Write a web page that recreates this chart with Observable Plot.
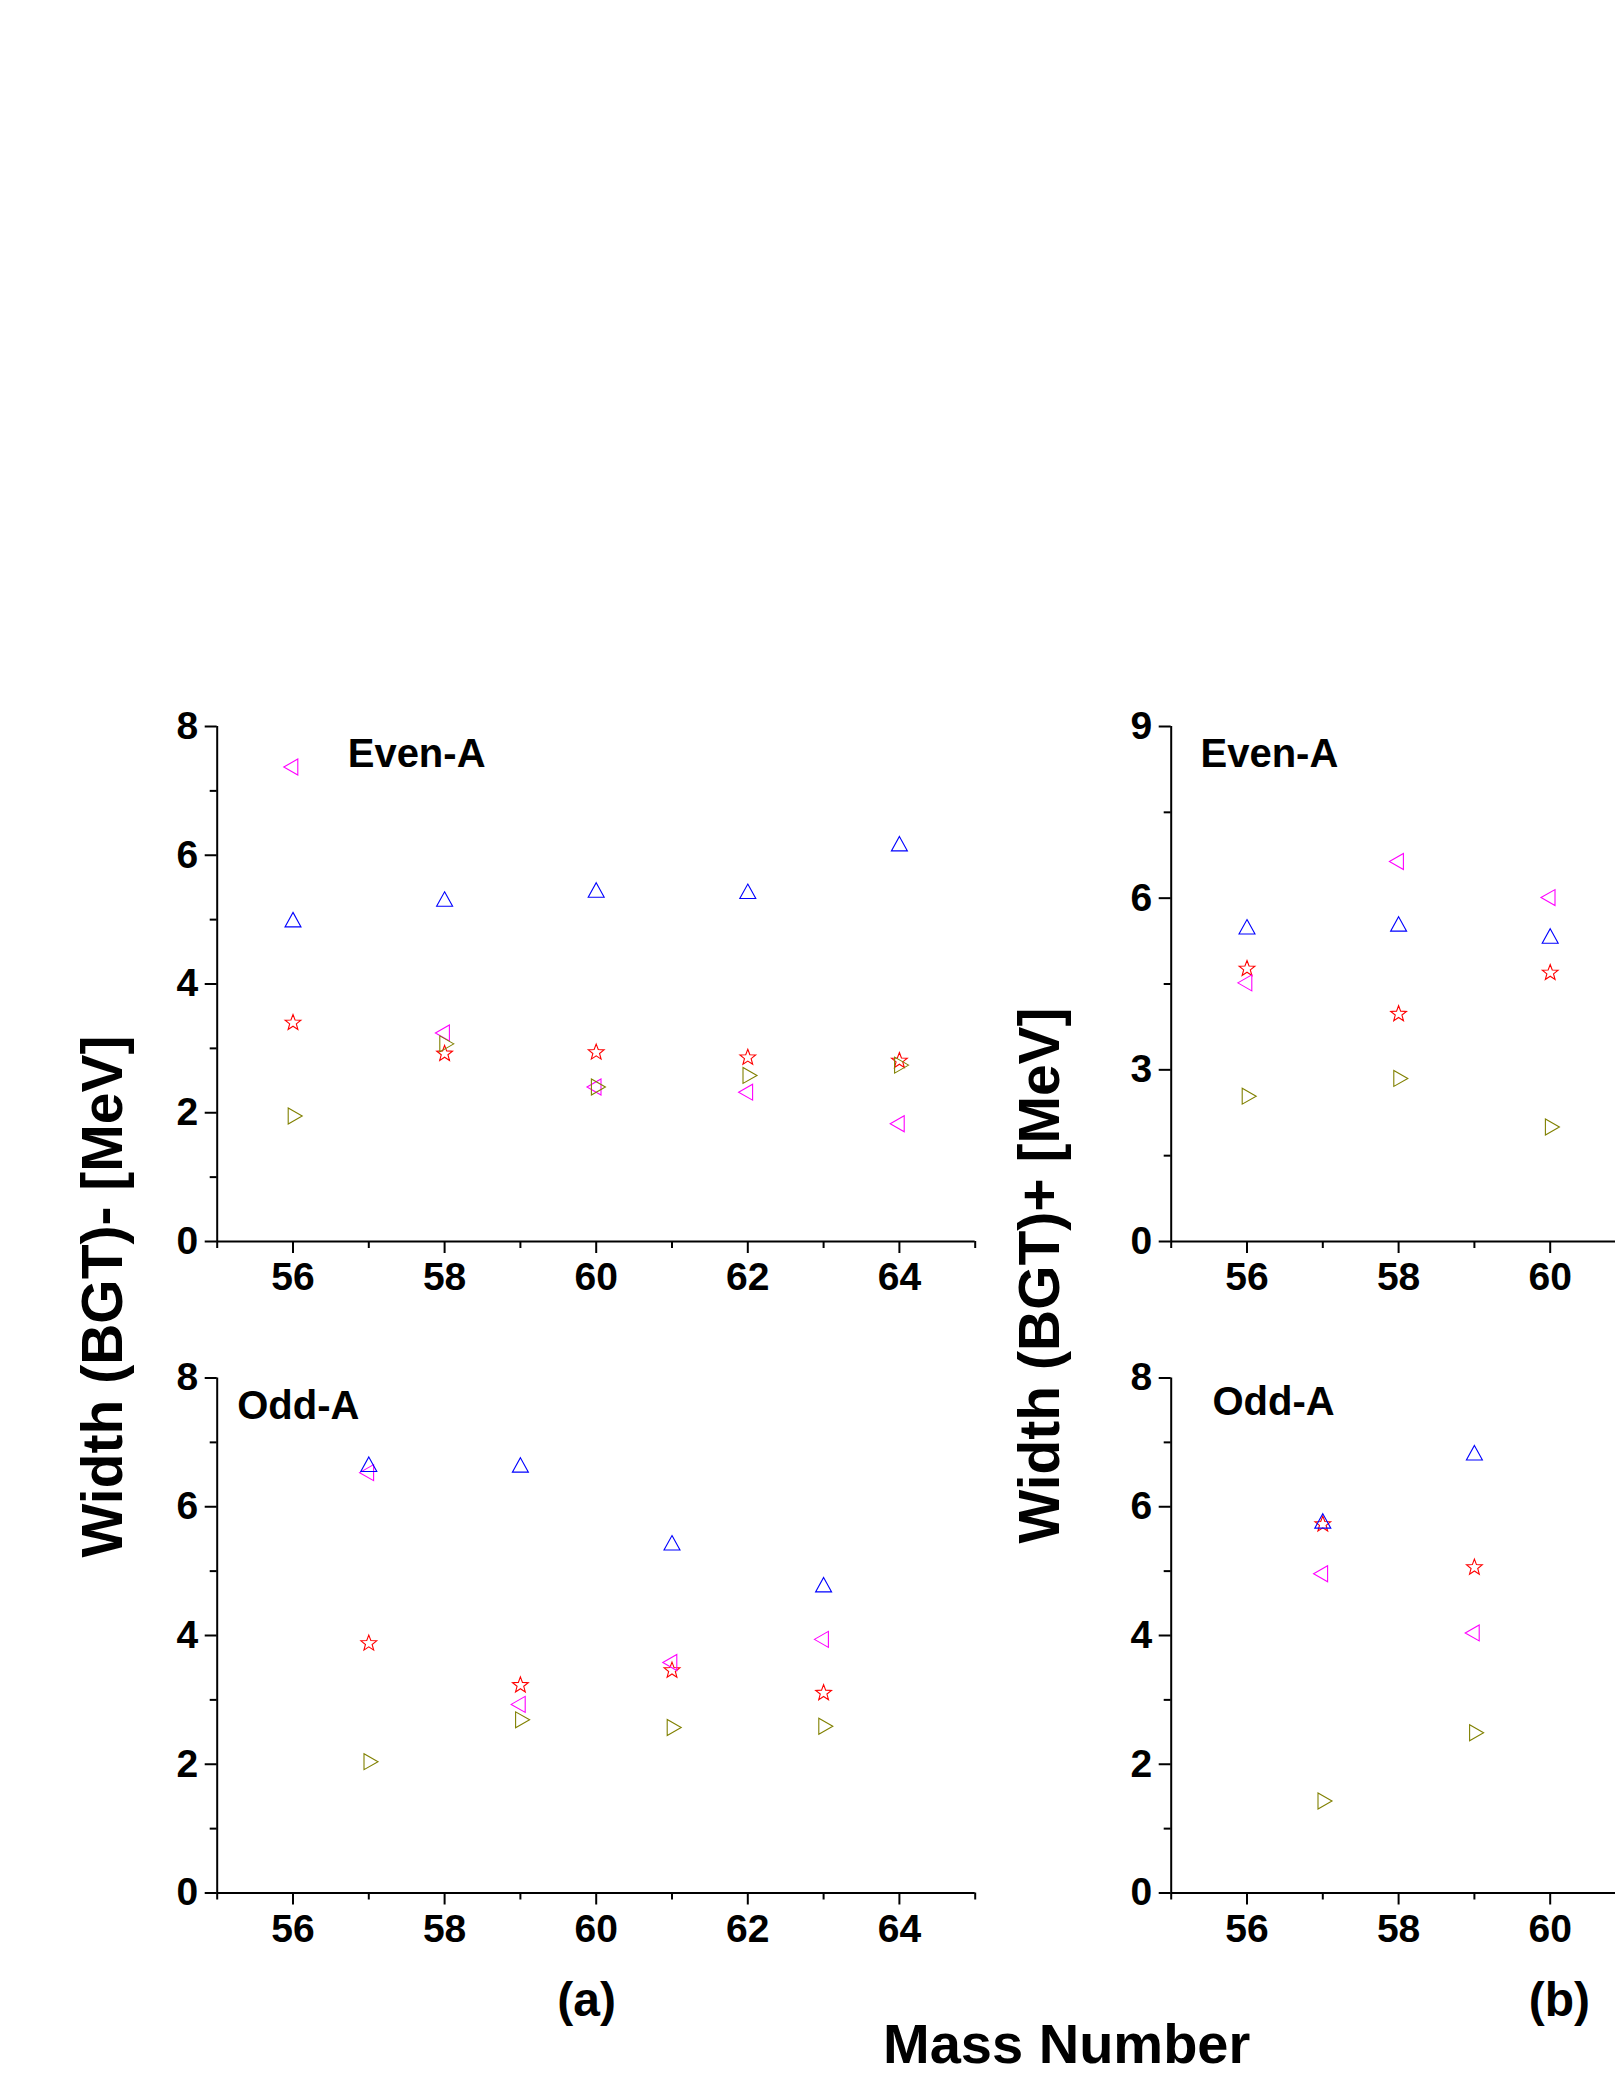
<!DOCTYPE html>
<html>
<head>
<meta charset="utf-8">
<script src="https://cdn.jsdelivr.net/npm/d3@7"></script>
<script src="https://cdn.jsdelivr.net/npm/@observablehq/plot@0.6"></script>
<style>
  html, body { margin: 0; padding: 0; background: #fff; overflow: hidden; }
  #root { position: relative; width: 1615px; height: 2090px; font-family: "Liberation Sans", Arial, Helvetica, sans-serif; font-weight: bold; color: #000; }
  .panel { position: absolute; }
  .lbl { position: absolute; white-space: nowrap; text-align: center; line-height: 1; }
</style>
</head>
<body>
<div id="root"></div>
<script>
// ---------------- data ----------------
const massEvenA = [56, 58, 60, 62, 64];
const massOddA = [57, 59, 61, 63];
const massEvenB = [56, 58, 60];
const massOddB = [57, 59];

// (a) Width (BGT)-, Even-A
const aEvenUp    = [5.00, 5.32, 5.46, 5.44, 6.18];
const aEvenStar  = [3.41, 2.93, 2.95, 2.87, 2.82];
const aEvenLeft  = [7.37, 3.24, 2.40, 2.32, 1.83];
const aEvenRight = [1.95, 3.07, 2.40, 2.58, 2.74];
// (a) Width (BGT)-, Odd-A
const aOddUp     = [6.66, 6.65, 5.44, 4.79];
const aOddStar   = [3.89, 3.24, 3.47, 3.12];
const aOddLeft   = [6.53, 2.93, 3.58, 3.94];
const aOddRight  = [2.04, 2.69, 2.57, 2.59];
// (b) Width (BGT)+, Even-A
const bEvenUp    = [5.50, 5.55, 5.34];
const bEvenStar  = [4.78, 3.99, 4.71];
const bEvenLeft  = [4.52, 6.64, 6.01];
const bEvenRight = [2.54, 2.85, 2.00];
// (b) Width (BGT)+, Odd-A
const bOddUp     = [5.78, 6.84];
const bOddStar   = [5.74, 5.07];
const bOddLeft   = [4.96, 4.04];
const bOddRight  = [1.43, 2.49];

// axis ticks
const xMajorA = [56, 58, 60, 62, 64];
const xMinorA = [55, 57, 59, 61, 63, 65];
const xMajorB = [56, 58, 60];
const xMinorB = [55, 57, 59];
const yMajor8 = [0, 2, 4, 6, 8];
const yMinor8 = [1, 3, 5, 7];
const yMajor9 = [0, 3, 6, 9];
const yMinor9 = [1.5, 4.5, 7.5];

// ---------------- symbols ----------------
const S = (size) => Math.sqrt(size / Math.PI) / 6;
const symUp = { draw(c, size) { const s = S(size); c.moveTo(0, -7.25 * s); c.lineTo(8 * s, 7.25 * s); c.lineTo(-8 * s, 7.25 * s); c.closePath(); } };
const symLeft = { draw(c, size) { const s = S(size); c.moveTo(-9.2 * s, 0); c.lineTo(4.8 * s, -8 * s); c.lineTo(4.8 * s, 8 * s); c.closePath(); } };
const symRight = { draw(c, size) { const s = S(size); c.moveTo(9.2 * s, 0); c.lineTo(-4.8 * s, -8 * s); c.lineTo(-4.8 * s, 8 * s); c.closePath(); } };
const symStar = { draw(c, size) {
  const s = S(size), R = 8.3 * s, r = 3.5 * s;
  for (let i = 0; i < 10; i++) {
    const a = -Math.PI / 2 + i * Math.PI / 5, rr = i % 2 ? r : R;
    const px = rr * Math.cos(a), py = rr * Math.sin(a) + 0.8 * s;
    i ? c.lineTo(px, py) : c.moveTo(px, py);
  }
  c.closePath();
} };

const FONT = '"Liberation Sans", Arial, Helvetica, sans-serif';

function rows(xs, ys) { return xs.map((x, i) => ({ x, y: ys[i] })); }

function panel(pos, o) {
  const series = [
    { data: rows(o.xs, o.star), sym: symStar, color: "#ff0000" },
    { data: rows(o.xs, o.lt), sym: symLeft, color: "#ff00ff" },
    { data: rows(o.xs, o.rt), sym: symRight, color: "#808000" },
    { data: rows(o.xs, o.up), sym: symUp, color: "#0000ff" }
  ];
  const svg = Plot.plot({
    width: pos.width, height: pos.height,
    marginTop: pos.mt, marginBottom: pos.mb, marginLeft: pos.ml, marginRight: pos.mr,
    x: { domain: pos.xDomain, label: null },
    y: { domain: o.yDomain, label: null },
    style: { background: "transparent", color: "#000", fontFamily: FONT, fontWeight: "bold", fontSize: "39px", overflow: "visible" },
    marks: [
      Plot.ruleX([pos.xDomain[0]], { stroke: "#000", strokeWidth: 2 }),
      Plot.ruleY([o.yDomain[0]], { stroke: "#000", strokeWidth: 2 }),
      Plot.axisY({ ticks: o.yMajor, tickSize: 12, tickPadding: 7, strokeWidth: 2, fontSize: 39, fontWeight: "bold", label: null, tickFormat: d => String(d) }),
      Plot.axisY({ ticks: o.yMinor, tickSize: 7, strokeWidth: 2, label: null, tickFormat: () => "" }),
      Plot.axisX({ ticks: pos.xMajor, tickSize: 12, tickPadding: 9, strokeWidth: 2, fontSize: 39, fontWeight: "bold", label: null, tickFormat: d => String(d) }),
      Plot.axisX({ ticks: pos.xMinor, tickSize: 7, strokeWidth: 2, label: null, tickFormat: () => "" }),
      Plot.text([o.label], { frameAnchor: "top-left", text: d => d, dx: o.ldx, dy: o.ldy, textAnchor: "start", lineAnchor: "bottom", fontSize: 40, fontWeight: "bold", fill: "#000" }),
      ...series.map(s => Plot.dot(s.data, { x: "x", y: "y", symbol: s.sym, r: 6, fill: "none", stroke: s.color, strokeWidth: 1.1 }))
    ]
  });
  const div = document.createElement("div");
  div.className = "panel";
  div.style.left = pos.left + "px";
  div.style.top = pos.top + "px";
  div.appendChild(svg);
  document.getElementById("root").appendChild(div);
}

const leftGeom = { left: 0, width: 1000, ml: 216.7, mr: 25.3, xDomain: [55, 65], xMajor: xMajorA, xMinor: xMinorA };
const rightGeom = { left: 1000, width: 615, ml: 170.7, mr: 0, xDomain: [55, 55 + (615 - 170.7) / 75.8], xMajor: xMajorB, xMinor: xMinorB };
const topGeom = { top: 680, height: 640, mt: 46, mb: 79 };
const botGeom = { top: 1320, height: 640, mt: 57.5, mb: 67.5 };

panel({ ...leftGeom, ...topGeom }, { xs: massEvenA, up: aEvenUp, star: aEvenStar, lt: aEvenLeft, rt: aEvenRight,
  yDomain: [0, 8], yMajor: yMajor8, yMinor: yMinor8, label: "Even-A", ldx: 130.5, ldy: 40.7 });
panel({ ...leftGeom, ...botGeom }, { xs: massOddA, up: aOddUp, star: aOddStar, lt: aOddLeft, rt: aOddRight,
  yDomain: [0, 8], yMajor: yMajor8, yMinor: yMinor8, label: "Odd-A", ldx: 20, ldy: 40.5 });
panel({ ...rightGeom, ...topGeom }, { xs: massEvenB, up: bEvenUp, star: bEvenStar, lt: bEvenLeft, rt: bEvenRight,
  yDomain: [0, 9], yMajor: yMajor9, yMinor: yMinor9, label: "Even-A", ldx: 29.3, ldy: 40 });
panel({ ...rightGeom, ...botGeom }, { xs: massOddB, up: bOddUp, star: bOddStar, lt: bOddLeft, rt: bOddRight,
  yDomain: [0, 8], yMajor: yMajor8, yMinor: yMinor8, label: "Odd-A", ldx: 41.3, ldy: 36.5 });

// ---------------- HTML labels ----------------
function addLabel(text, cx, top, size, rotate) {
  const d = document.createElement("div");
  d.className = "lbl";
  d.textContent = text;
  d.style.fontSize = size + "px";
  const w = 800;
  d.style.width = w + "px";
  d.style.left = (cx - w / 2) + "px";
  d.style.top = top + "px";
  if (rotate) d.style.transform = "rotate(-90deg)";
  document.getElementById("root").appendChild(d);
}
// rotated titles: centre (cx, cy); baseline lies 0.3465*F right of centre
addLabel("Width (BGT)- [MeV]", 121.7 - 0.3465 * 57, 1296.5 - 57 / 2, 57, true);
addLabel("Width (BGT)+ [MeV]", 1059 - 0.3465 * 57, 1275 - 57 / 2, 57, true);
addLabel("(a)", 586.7, 2016.7 - 0.8465 * 48, 48, false);
addLabel("(b)", 1559.3, 2016.7 - 0.8465 * 48, 48, false);
addLabel("Mass Number", 1066.7, 2063.3 - 0.8465 * 56, 56, false);
</script>
</body>
</html>
